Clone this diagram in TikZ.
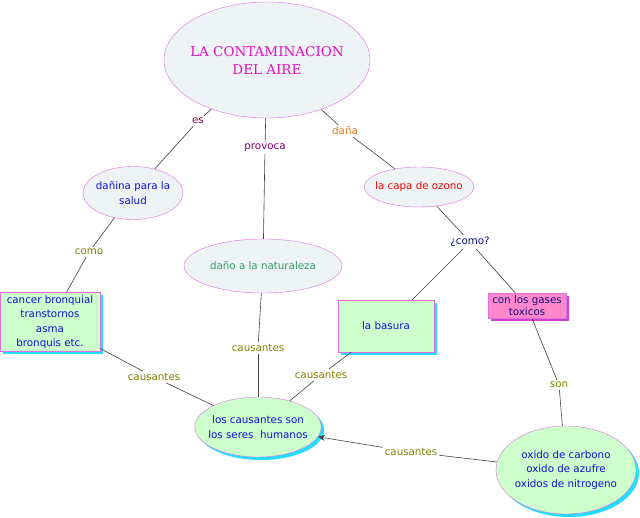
\documentclass[tikz,border=0pt]{standalone}
\usepackage{fontspec}
\setmainfont{DejaVu Sans}
\newfontfamily\titlefont{DejaVu Serif}
\usetikzlibrary{shapes.geometric,shadows,arrows.meta}
\definecolor{conceptline}{HTML}{E070E0}
\definecolor{conceptfill}{HTML}{EEF3F6}
\definecolor{greenfill}{HTML}{CCFFCC}
\definecolor{shadowcyan}{HTML}{22DDFF}
\definecolor{pinkfill}{HTML}{FF88CC}
\definecolor{pinkshadow}{HTML}{D040D0}
\definecolor{titlecol}{HTML}{E010C0}
\definecolor{bluetext}{HTML}{1010D8}
\definecolor{navytext}{HTML}{10107A}
\definecolor{naturecol}{HTML}{339966}
\definecolor{redtext}{HTML}{EE0000}
\definecolor{olivetext}{HTML}{808000}
\definecolor{maroontext}{HTML}{800040}
\definecolor{purpletext}{HTML}{800070}
\definecolor{orangetext}{HTML}{E87722}
\definecolor{linkgray}{HTML}{404040}

\begin{document}
\begin{tikzpicture}[
    x=1pt, y=-1pt,
    concept/.style={
        ellipse,
        draw=conceptline,
        fill=conceptfill,
        align=center,
        inner xsep=-5pt,
        inner ysep=0pt,
        font=\fontsize{10.3}{14.5}\selectfont
    },
    greenconcept/.style={
        concept,
        fill=greenfill,
        drop shadow={fill=shadowcyan, opacity=1, shadow xshift=3pt, shadow yshift=-3pt}
    },
    greenbox/.style={
        rectangle,
        draw=conceptline,
        fill=greenfill,
        align=center,
        inner sep=0pt,
        font=\fontsize{10.3}{14.5}\selectfont,
        drop shadow={fill=shadowcyan, opacity=1, shadow xshift=3pt, shadow yshift=-3pt}
    },
    linkword/.style={
        inner sep=2pt,
        font=\fontsize{10.3}{12}\selectfont
    },
    link/.style={
        draw=linkgray,
        line width=0.6pt
    }
]
\useasboundingbox (0,0) rectangle (640,518);

% concepts
\node[concept, minimum width=206pt, minimum height=116pt, text=titlecol,
      font=\titlefont\fontsize{13.5}{18}\selectfont] (aire) at (267,60)
{LA CONTAMINACION\\
DEL AIRE};
\node[concept, minimum width=100pt, minimum height=53pt, text=bluetext] (salud) at (133,193)
{dañina para la\\
salud};
\node[concept, minimum width=158pt, minimum height=54pt, text=naturecol] (natur) at (263,266)
{daño a la naturaleza};
\node[concept, minimum width=106pt, minimum height=40pt, text=redtext] (ozono) at (419,187)
{la capa de ozono};
\node[greenbox, minimum width=100pt, minimum height=59pt, text=bluetext] (cancer) at (50,322)
{cancer bronquial\\
transtornos\\
asma\\
bronquis etc.};
\node[greenbox, minimum width=96pt, minimum height=52pt, text=bluetext] (basura) at (386,326)
{la basura};
\node[rectangle, draw=conceptline, fill=pinkfill, align=center, inner sep=0pt,
      minimum width=78pt, minimum height=25pt, text=navytext,
      font=\fontsize{10.3}{12}\selectfont,
      drop shadow={fill=pinkshadow, opacity=1, shadow xshift=3pt, shadow yshift=-3pt}] (gases) at (527,306)
{con los gases\\
toxicos};
\node[greenconcept, minimum width=126pt, minimum height=60pt, text=bluetext] (humanos) at (258,427)
{los causantes son\\
los seres\ \ humanos};
\node[greenconcept, minimum width=140pt, minimum height=88pt, text=bluetext] (oxido) at (566,470)
{oxido de carbono\\
oxido de azufre\\
oxidos de nitrogeno};

% linking words
\node[linkword, text=maroontext] (es) at (198,121) {es};
\node[linkword, text=purpletext] (provoca) at (265,148) {provoca};
\node[linkword, text=orangetext] (dana) at (345,131) {daña};
\node[linkword, text=olivetext] (como) at (89,252) {como};
\node[linkword, text=navytext] (comoq) at (470,242) {¿como?};
\node[linkword, text=olivetext] (caus1) at (154,377) {causantes};
\node[linkword, text=olivetext] (caus2) at (258,348) {causantes};
\node[linkword, text=olivetext] (caus3) at (321,375) {causantes};
\node[linkword, text=olivetext] (caus4) at (411,452) {causantes};
\node[linkword, text=olivetext] (son) at (559,385) {son};

% connectors
\draw[link] (aire) -- (es);
\draw[link] (es) -- (salud);
\draw[link] (aire) -- (provoca);
\draw[link] (provoca) -- (natur);
\draw[link] (aire) -- (dana);
\draw[link] (dana) -- (ozono);
\draw[link] (salud) -- (como);
\draw[link] (como) -- (cancer);
\draw[link] (ozono) -- (comoq);
\draw[link] (comoq) -- (basura);
\draw[link] (comoq) -- (gases);
\draw[link] (cancer) -- (caus1);
\draw[link] (caus1) -- (humanos);
\draw[link] (natur) -- (caus2);
\draw[link] (caus2) -- (humanos);
\draw[link] (basura) -- (caus3);
\draw[link] (caus3) -- (humanos);
\draw[link] (gases) -- (son);
\draw[link] (son) -- (oxido);
\draw[link] (oxido) -- (caus4);
\draw[link, -{Stealth[length=7pt, width=6pt]}] (caus4) -- (humanos);
\end{tikzpicture}
\end{document}
